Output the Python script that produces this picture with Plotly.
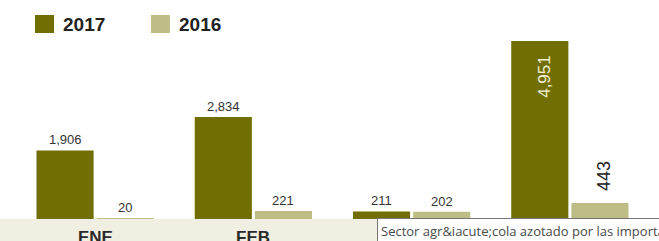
import plotly.graph_objects as go

categories = ["ENE", "FEB", "MAR", "TOTAL"]
values_2017 = [1906, 2834, 211, 4951]
values_2016 = [20, 221, 202, 443]
series_names = ["2017", "2016"]
tooltip_text = "Sector agr&amp;iacute;cola azotado por las importaciones"

C2017 = "#716f04"
C2016 = "#bebd86"
W, H = 659, 241
ML, MR, MT, MB = 16, 10, 41, 22
PW = W - ML - MR
PH = H - MT - MB


def px(x):
    return (x - ML) / PW


def py(y):
    return (H - MB - y) / PH


fig = go.Figure()
fig.add_bar(x=categories, y=values_2017, name=series_names[0], marker_color=C2017,
            marker_line_width=0, hoverinfo="none")
fig.add_bar(x=categories, y=values_2016, name=series_names[1], marker_color=C2016,
            marker_line_width=0, hoverinfo="none")

bargap = 0.24
off = (1 - bargap) / 4

shapes = []
annotations = []

# ground strip
shapes.append(dict(type="rect", xref="paper", yref="paper", x0=px(0), x1=px(W),
                   y0=py(219), y1=py(H), fillcolor="#f0efe2", line_width=0, layer="below"))

# legend
for i, (nm, col) in enumerate(zip(series_names, [C2017, C2016])):
    x0 = [35, 151][i]
    shapes.append(dict(type="rect", xref="paper", yref="paper", x0=px(x0), x1=px(x0 + 19),
                       y0=py(33), y1=py(15), fillcolor=col, line_width=0))
    annotations.append(dict(xref="paper", yref="paper", x=px(x0 + 26), y=py(24),
                            xanchor="left", yanchor="middle", text="<b>%s</b>" % nm,
                            showarrow=False,
                            font=dict(family="Liberation Sans", size=19, color="#222222")))

lab_font = dict(family="Liberation Sans", size=13, color="#333333")
for i, cat in enumerate(categories):
    v17, v16 = values_2017[i], values_2016[i]
    if cat == "TOTAL":
        annotations.append(dict(x=i - off, y=v17, xref="x", yref="y", text=f"{v17:,}",
                                textangle=-90, showarrow=False, xanchor="center", yanchor="middle",
                                yshift=-35, xshift=4,
                                font=dict(family="Liberation Sans", size=17, color="#f4f0d2")))
        annotations.append(dict(x=i + off, y=v16, xref="x", yref="y", text=f"{v16:,}",
                                textangle=-90, showarrow=False, xanchor="center", yanchor="middle",
                                yshift=27, xshift=4,
                                font=dict(family="Liberation Sans", size=18, color="#222222")))
    else:
        annotations.append(dict(x=i - off, y=v17, xref="x", yref="y", text=f"{v17:,}",
                                showarrow=False, xanchor="center", yanchor="bottom", yshift=1,
                                font=lab_font))
        annotations.append(dict(x=i + off, y=v16, xref="x", yref="y", text=f"{v16:,}",
                                showarrow=False, xanchor="center", yanchor="bottom", yshift=1,
                                font=lab_font))
    # category labels
    annotations.append(dict(x=i, y=py(226), xref="x", yref="paper", text="<b>%s</b>" % cat,
                            showarrow=False, xanchor="center", yanchor="top",
                            font=dict(family="Liberation Sans", size=17, color="#2a2a2a")))

# tooltip
annotations.append(dict(xref="paper", yref="paper", x=px(377), y=py(218), xanchor="left",
                        yanchor="top", text=tooltip_text, showarrow=False, align="left",
                        bgcolor="#ffffff", bordercolor="#767676", borderwidth=1, borderpad=3,
                        font=dict(family="Open Sans", size=13, color="#4a4a4a")))

fig.update_layout(
    width=W, height=H,
    margin=dict(l=ML, r=MR, t=MT, b=MB, pad=0),
    paper_bgcolor="#ffffff", plot_bgcolor="#ffffff",
    barmode="group", bargap=bargap, bargroupgap=0.05,
    showlegend=False,
    xaxis=dict(showticklabels=False, showgrid=False, zeroline=False, showline=False,
               ticks="", range=[-0.5, 3.5]),
    yaxis=dict(showticklabels=False, showgrid=False, zeroline=False, showline=False,
               ticks="", range=[0, max(values_2017)]),
    shapes=shapes, annotations=annotations,
)

fig.write_html("out.html", config={"displayModeBar": False},
               post_script="document.body.style.margin='0';document.body.style.overflow='hidden';")
